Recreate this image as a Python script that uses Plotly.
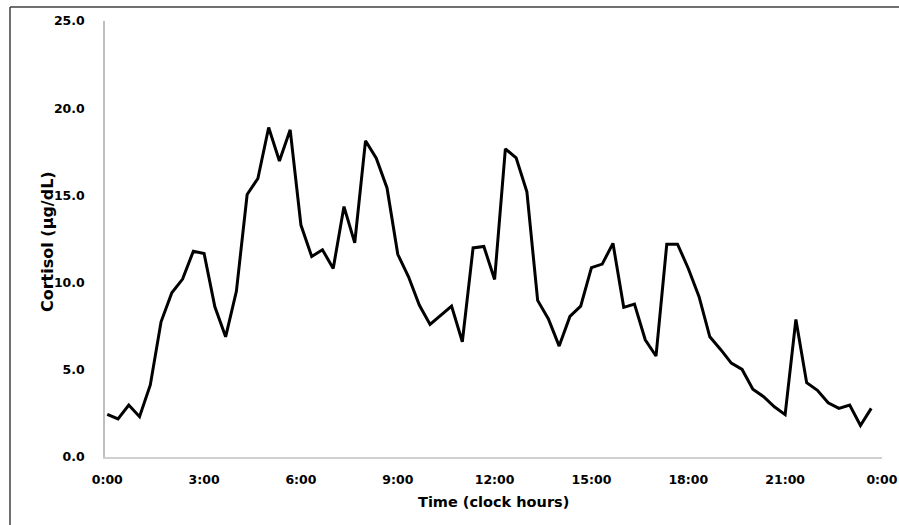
import plotly.graph_objects as go

# 20-minute sampling from 0:00 to 23:40
step_minutes = 20
cortisol = [
    2.45, 2.18, 2.98, 2.31, 4.13, 7.75, 9.42, 10.2, 11.8, 11.67,
    8.61, 6.89, 9.5, 15.05, 15.97, 18.89, 16.97, 18.76, 13.3, 11.5,
    11.88, 10.81, 14.36, 12.28, 18.13, 17.13, 15.43, 11.62, 10.33, 8.71,
    7.6, 8.1, 8.65, 6.61, 11.99, 12.07, 10.18, 17.67, 17.15, 15.2,
    8.98, 7.92, 6.36, 8.06, 8.65, 10.86, 11.06, 12.25, 8.58, 8.77,
    6.72, 5.79, 12.2, 12.2, 10.81, 9.19, 6.89, 6.17, 5.38, 5.02,
    3.89, 3.46, 2.88, 2.43, 7.89, 4.26, 3.82, 3.11, 2.79, 2.98,
    1.81, 2.79,
]
hours = [i * step_minutes / 60 for i in range(len(cortisol))]

x_tick_vals = [0, 3, 6, 9, 12, 15, 18, 21, 24]
x_tick_text = ["0:00", "3:00", "6:00", "9:00", "12:00", "15:00", "18:00", "21:00", "0:00"]
y_tick_vals = [0, 5, 10, 15, 20, 25]
y_tick_text = ["0.0", "5.0", "10.0", "15.0", "20.0", "25.0"]

W, H = 899, 525
ML, MR, MT, MB = 105, 17, 21, 68
pw, ph = W - ML - MR, H - MT - MB


def px(x):
    return (x - ML) / pw


def py(y):
    return (H - MB - y) / ph


tick_font = dict(family="DejaVu Sans", size=12.5, color="black", weight="bold")
xtitle_font = dict(family="DejaVu Sans", size=14.5, color="black")
ytitle_font = dict(family="DejaVu Sans", size=16, color="black")

fig = go.Figure()
fig.add_trace(go.Scatter(
    x=hours, y=cortisol, mode="lines",
    line=dict(color="black", width=3), showlegend=False,
))

fig.update_layout(
    width=W, height=H,
    margin=dict(l=ML, r=MR, t=MT, b=MB, autoexpand=False),
    paper_bgcolor="white", plot_bgcolor="white",
    xaxis=dict(
        range=[-0.07, 24.001], tickvals=x_tick_vals, ticktext=x_tick_text,
        showgrid=False, zeroline=False, showline=True, linecolor="#d0d0d0",
        linewidth=1.5, ticks="", tickfont=tick_font, ticklabelstandoff=10,
        automargin=False, ticklabeloverflow="allow",
    ),
    yaxis=dict(
        range=[0, 25], tickvals=y_tick_vals, ticktext=y_tick_text,
        showgrid=False, zeroline=False, showline=True, linecolor="#bfbfbf",
        linewidth=1.5, ticks="", tickfont=tick_font, ticklabelstandoff=16,
        automargin=False, ticklabeloverflow="allow",
    ),
    annotations=[
        dict(text="<b>Time (clock hours)</b>", xref="paper", yref="paper",
             x=px(493), y=py(502), showarrow=False, font=xtitle_font,
             xanchor="center", yanchor="middle"),
        dict(text="<b>Cortisol (µg/dL)</b>", xref="paper", yref="paper",
             x=px(47), y=py(242), showarrow=False, font=ytitle_font,
             textangle=-90, xanchor="center", yanchor="middle"),
    ],
    shapes=[
        dict(type="line", xref="paper", yref="paper",
             x0=px(10), x1=px(W), y0=py(7), y1=py(7),
             line=dict(color="#404040", width=1.5)),
        dict(type="line", xref="paper", yref="paper",
             x0=px(10), x1=px(10), y0=py(7), y1=py(H),
             line=dict(color="#404040", width=1.5)),
    ],
)

fig.write_html("out.html")
